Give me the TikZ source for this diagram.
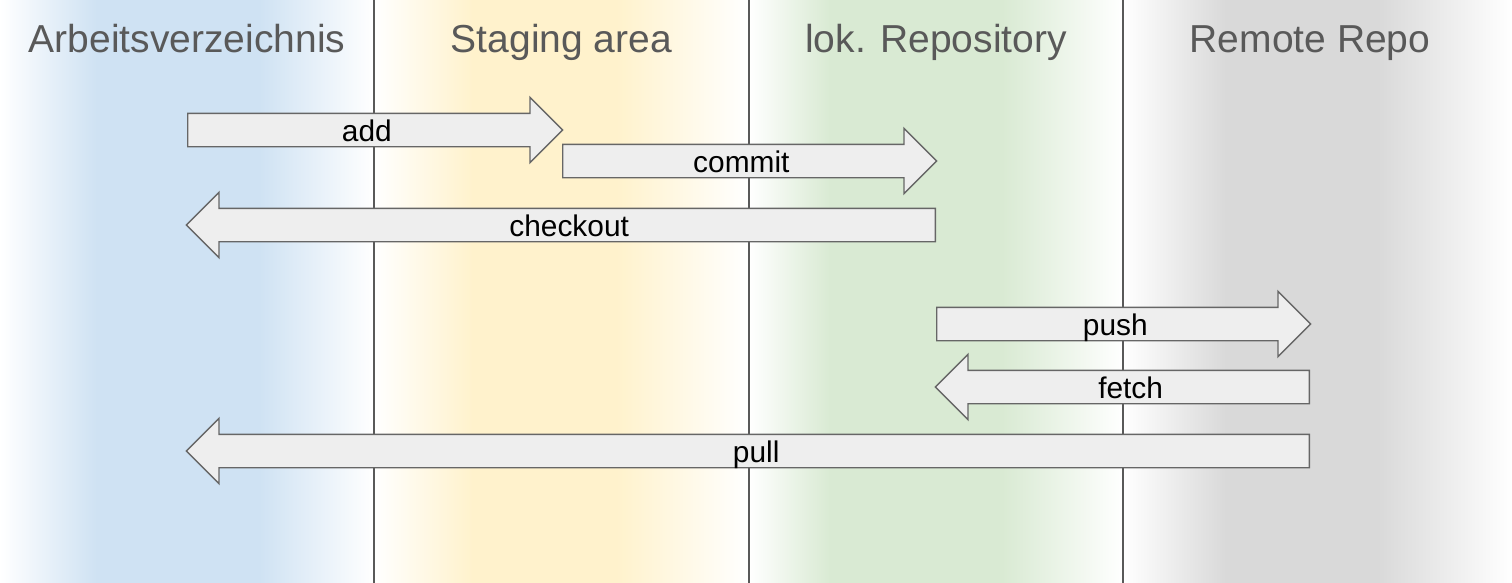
\documentclass[tikz,border=0pt]{standalone}
\usepackage{fontspec}
\setmainfont{Liberation Sans}
\usepackage{tikz}
\usetikzlibrary{shapes.arrows}
\definecolor{workblue}{HTML}{CFE2F3}
\definecolor{stageyellow}{HTML}{FFF2CC}
\definecolor{localgreen}{HTML}{D9EAD3}
\definecolor{remotegray}{HTML}{D9D9D9}
\definecolor{arrowfill}{HTML}{EEEEEE}
\definecolor{arrowline}{HTML}{666666}
\definecolor{headgray}{HTML}{595959}
\tikzset{gitarrow/.style={single arrow, draw=arrowline, fill=arrowfill, line width=0.4pt,
    single arrow head extend=0.16cm, single arrow tip angle=90,
    inner xsep=0pt, inner ysep=0pt, text height=0.27cm, text depth=0.05cm, anchor=tail},
  backarrow/.style={gitarrow, shape border rotate=180},
  header/.style={text=headgray, font=\fontsize{11.1}{13}\selectfont, anchor=base}}

\begin{document}
\begin{tikzpicture}[font=\fontsize{8.5}{10}\selectfont]
                \useasboundingbox (0,0) rectangle (15.12,5.82);
                % column bands
                \foreach \xa/\xb/\xc/\xd/\col in {0/0.96/2.60/3.74/workblue, 3.74/4.72/6.17/7.49/stageyellow,
                    7.49/8.29/10.03/11.23/localgreen, 11.23/12.25/13.79/15.12/remotegray} {
                    \fill[left color=white, right color=\col] (\xa,-0.05) rectangle (\xb+0.01,5.87);
                    \fill[\col] (\xb,-0.05) rectangle (\xc,5.87);
                    \fill[left color=\col, right color=white] (\xc-0.01,-0.05) rectangle (\xd,5.87);
                }
                \foreach \x in {3.74,7.49,11.23}
                    \draw[headgray, line width=0.4pt] (\x,-0.05) -- (\x,5.87);
                \node[header] (work) at (1.87,5.30) {Arbeitsverzeichnis};
                \node[header] (stage) at (5.615,5.30) {Staging area};
                \node[header] (local) at (9.36,5.30) {lok. Repository};
                \node[header] (remote) at (13.10,5.30) {Remote Repo};
                % arrows
                \node[gitarrow, minimum height=3.75cm] (add) at (1.87,4.52) {add};
                \node[gitarrow, minimum height=3.74cm] (commit) at (5.62,4.21) {commit};
                \node[backarrow, minimum height=7.49cm] (checkout) at (9.36,3.57) {checkout};
                \node[gitarrow, minimum height=3.74cm] (push) at (9.36,2.58) {push};
                \node[backarrow, minimum height=3.74cm] (fetch) at (13.10,1.95) {fetch};
                \node[backarrow, minimum height=11.23cm] (pull) at (13.10,1.31) {pull};
            \end{tikzpicture}
\end{document}
